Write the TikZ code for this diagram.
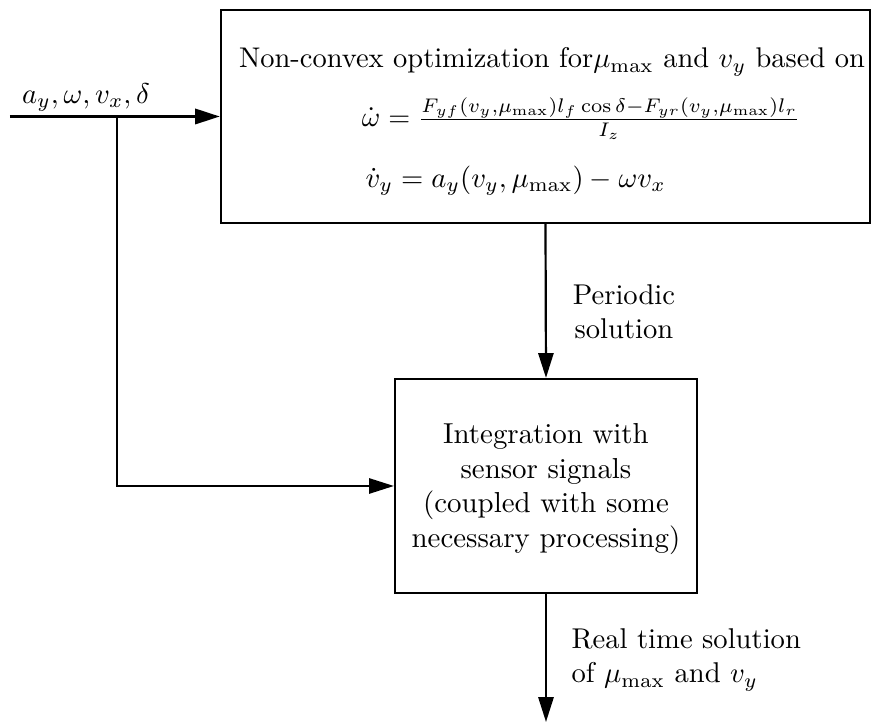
\documentclass[tikz,border=0pt]{standalone}
\usetikzlibrary{arrows.meta}
\begin{document}
\begin{tikzpicture}[x=0.3636pt,y=-0.3636pt,
  blk/.style={draw,line width=0.8pt,inner sep=0pt},
  flow/.style={line width=0.8pt,-{Triangle[length=9pt,width=5.5pt]}},
  lbl/.style={inner sep=0pt,scale=1.04}]
\useasboundingbox (0,0) rectangle (872,724);

% blocks
\node[blk,minimum width=236pt,minimum height=77.4pt] (opt) at (545.5,116.5) {};
\node[blk,minimum width=109.8pt,minimum height=77.8pt] (int) at (546,486) {};
\node[lbl,align=center,scale=1.01] (inttext) at (546,489)
  {Integration with\\ sensor signals\\ (coupled with some\\ necessary processing)};

% contents of the optimization block
\node[lbl,scale=0.995] (title) at (552,62) {Non-convex optimization for$\mu_{\max}$ and $v_y$ based on};
\node[inner sep=0pt,scale=1.025] (eqw) at (581,118.5)
  {$\dot{\omega}=\frac{F_{yf}(v_y,\mu_{\max})l_f\cos\delta-F_{yr}(v_y,\mu_{\max})l_r}{I_z}$};
\node[lbl,anchor=west] (eqv) at (365,181) {$\dot{v}_y=a_y(v_y,\mu_{\max})-\omega v_x$};

% signals
\coordinate (in) at (10,116.5);
\coordinate (br) at (117,116.5);
\coordinate (out) at (546,722);
\node[lbl,anchor=south] (inlbl) at (86,112) {$a_y,\omega,v_x,\delta$};

\draw[flow,line width=1.1pt] (in) -- (opt.west);
\draw[flow] (br) |- (int.west);
\draw[flow] (opt.south) -- (int.north);
\draw[flow] (int.south) -- (out);

\node[lbl,align=center] (per) at (624,312) {Periodic\\ solution};
\node[lbl,align=left,anchor=west] (rt) at (571,660)
  {Real time solution\\ of $\mu_{\max}$ and $v_y$};
\end{tikzpicture}
\end{document}
